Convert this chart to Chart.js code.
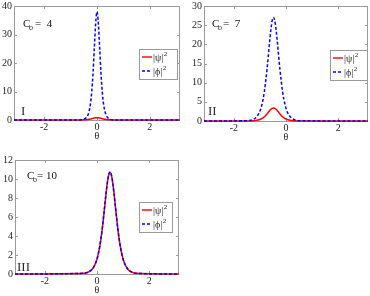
<!DOCTYPE html>
<html>
<head>
<meta charset="utf-8">
<script src="https://cdn.jsdelivr.net/npm/chart.js@4.4.1/dist/chart.umd.min.js"></script>
<style>
  html, body { margin: 0; padding: 0; background: #fff; }
  body { width: 370px; height: 296px; position: relative; overflow: hidden; }
  canvas { position: absolute; }
</style>
</head>
<body>
<canvas id="c1" width="185" height="144" style="left:0;top:-2px"></canvas>
<canvas id="c2" width="185" height="145" style="left:185px;top:-2px"></canvas>
<canvas id="c3" width="185" height="144" style="left:0;top:152px"></canvas>
<script>
// shared x axis
const xMin = -3.1416, xMax = 3.1416;
const xTicks = [-2, 0, 2];

// panel I  (C_o = 4)
const thetaI = [-3.1416, -0.7, -0.6, -0.5, -0.4, -0.35, -0.3, -0.25, -0.2, -0.15, -0.1, -0.05, 0,
  0.05, 0.1, 0.15, 0.2, 0.25, 0.3, 0.35, 0.4, 0.5, 0.6, 0.7, 3.1416];
const psiI = [0, 0.012, 0.026, 0.057, 0.12, 0.173, 0.244, 0.336, 0.447, 0.57, 0.685, 0.77, 0.8,
  0.77, 0.685, 0.57, 0.447, 0.336, 0.244, 0.173, 0.12, 0.057, 0.026, 0.012, 0];
const phiI = [0, 0.02, 0.07, 0.25, 0.85, 1.6, 3.0, 5.5, 9.8, 16.5, 25.5, 34.0, 38.0,
  34.0, 25.5, 16.5, 9.8, 5.5, 3.0, 1.6, 0.85, 0.25, 0.07, 0.02, 0];
const yTicksI = [0, 10, 20, 30, 40];

// panel II  (C_o = 7)
const thetaII = [-3.1416, -1.48, -1.38, -1.28, -1.18, -1.08, -0.98, -0.88, -0.83, -0.78, -0.73, -0.68, -0.63, -0.58, -0.53, -0.48,
  -0.43, -0.38, -0.33, -0.28, -0.23, -0.18, -0.13, -0.08, 0.02, 0.12, 0.22, 0.32, 0.42, 0.52, 3.1416];
const psiII = [0, 0.015, 0.03, 0.065, 0.13, 0.24, 0.46, 0.83, 1.10, 1.43, 1.82, 2.25, 2.68, 3.05, 3.31, 3.4,
  3.31, 3.05, 2.68, 2.25, 1.82, 1.43, 1.10, 0.83, 0.46, 0.24, 0.13, 0.065, 0.03, 0.015, 0];
const phiII = [0, 0.08, 0.18, 0.35, 0.72, 1.5, 2.9, 5.6, 7.6, 10.3, 13.3, 16.8, 20.5, 23.8, 26.2, 27.0,
  26.2, 23.8, 20.5, 16.8, 13.3, 10.3, 7.6, 5.6, 2.9, 1.5, 0.72, 0.35, 0.18, 0.08, 0];
const yTicksII = [0, 5, 10, 15, 20, 25, 30];

// panel III  (C_o = 10)
const thetaIII = [-3.1416, -0.5, -0.4, -0.3, -0.2, -0.1, 0, 0.1, 0.15, 0.2, 0.25, 0.3, 0.35, 0.4, 0.45, 0.5,
  0.55, 0.6, 0.65, 0.7, 0.75, 0.8, 0.85, 0.9, 1.0, 1.1, 1.2, 1.3, 1.4, 1.5, 3.1416];
const psiIII = [0, 0.067, 0.13, 0.24, 0.46, 0.86, 1.57, 2.80, 3.67, 4.71, 5.94, 7.24, 8.53, 9.66, 10.43, 10.7,
  10.43, 9.66, 8.53, 7.24, 5.94, 4.71, 3.67, 2.80, 1.57, 0.86, 0.46, 0.24, 0.13, 0.067, 0];
const phiIII = [0, 0.07, 0.14, 0.25, 0.47, 0.87, 1.58, 2.82, 3.70, 4.74, 5.97, 7.28, 8.58, 9.70, 10.47, 10.75,
  10.45, 9.66, 8.52, 7.22, 5.92, 4.69, 3.65, 2.78, 1.55, 0.85, 0.45, 0.24, 0.13, 0.066, 0];
const yTicksIII = [0, 2, 4, 6, 8, 10, 12];

const RED = '#ff0000';
const BLUE = '#0000ff';
const FRAME = '#9a9a9a';
const serif = "'Liberation Serif', 'Times New Roman', serif";

// frame, inward ticks, C_o text, roman numeral and the little legend box
const decoPlugin = {
  id: 'deco',
  beforeDatasetsDraw(chart) {
    const { ctx, chartArea: a, scales } = chart;
    ctx.save();
    ctx.strokeStyle = FRAME;
    ctx.lineWidth = 1;
    ctx.strokeRect(a.left + 0.5, a.top + 0.5, a.right - a.left - 1, a.bottom - a.top);
    ctx.beginPath();
    scales.x.ticks.forEach(t => {
      const px = Math.round(scales.x.getPixelForValue(t.value)) + 0.5;
      ctx.moveTo(px, a.bottom); ctx.lineTo(px, a.bottom - 3);
      ctx.moveTo(px, a.top); ctx.lineTo(px, a.top + 3);
    });
    scales.y.ticks.forEach(t => {
      const py = Math.round(scales.y.getPixelForValue(t.value)) + 0.5;
      ctx.moveTo(a.left, py); ctx.lineTo(a.left + 3, py);
      ctx.moveTo(a.right, py); ctx.lineTo(a.right - 3, py);
    });
    ctx.stroke();
    ctx.restore();
  },
  afterDraw(chart, args, o) {
    const { ctx, chartArea: a } = chart;
    ctx.save();
    ctx.fillStyle = '#111';
    ctx.textBaseline = 'alphabetic';

    // C_o = n
    const cx = a.left + o.coX, cy = a.top + o.coY;
    ctx.font = `11px ${serif}`;
    ctx.fillText('C', cx, cy);
    ctx.font = `8px ${serif}`;
    ctx.fillText('o', cx + 6, cy + 3);
    ctx.font = `11px ${serif}`;
    ctx.fillText(o.coText, cx + o.eqDx, cy);

    // panel numeral
    ctx.font = `13px ${serif}`;
    ctx.fillStyle = '#2a2a2a';
    ctx.fillText(o.roman, a.left + o.romX, a.bottom - o.romY);

    // legend
    const L = o.legend;
    const bx = a.right - L.right - L.w, by = a.top + L.top;
    ctx.fillStyle = '#fff';
    ctx.fillRect(bx, by, L.w, L.h);
    ctx.strokeStyle = FRAME;
    ctx.lineWidth = 1;
    ctx.strokeRect(bx + 0.5, by + 0.5, L.w, L.h);
    chart.data.datasets.forEach((ds, i) => {
      const ly = by + L.row0 + i * L.gap;
      ctx.strokeStyle = ds.borderColor;
      ctx.lineWidth = 1.4;
      ctx.setLineDash(ds.borderDash || []);
      ctx.beginPath();
      ctx.moveTo(bx + 3, ly);
      ctx.lineTo(bx + 13, ly);
      ctx.stroke();
      ctx.setLineDash([]);
      ctx.fillStyle = '#222';
      ctx.textBaseline = 'middle';
      ctx.font = `10px ${serif}`;
      ctx.fillText(ds.label, bx + 14, ly + 1);
      const w = ctx.measureText(ds.label).width;
      ctx.font = `7px ${serif}`;
      ctx.fillText('2', bx + 14.5 + w, ly - 3);
    });
    ctx.restore();
  }
};

function makePanel(id, theta, psi, phi, yTicks, deco) {
  const pts = ys => theta.map((t, i) => ({ x: t, y: ys[i] }));
  const tickFont = { family: serif, size: 10 };
  return new Chart(document.getElementById(id), {
    type: 'line',
    data: {
      datasets: [
        { label: '|ψ|', data: pts(psi), borderColor: RED, borderWidth: 1.5, pointRadius: 0,
          cubicInterpolationMode: 'monotone', clip: false, order: 1 },
        { label: '|ϕ|', data: pts(phi), borderColor: BLUE, borderWidth: 1.5, borderDash: [3, 2], pointRadius: 0,
          cubicInterpolationMode: 'monotone', clip: false, order: 0 }
      ]
    },
    options: {
      responsive: false,
      animation: false,
      layout: { padding: { right: deco.padRight } },
      plugins: { legend: { display: false }, tooltip: { enabled: false }, deco },
      scales: {
        x: {
          type: 'linear', min: xMin, max: xMax,
          grid: { display: false, drawTicks: false, tickLength: 0 }, border: { display: false },
          afterBuildTicks: s => { s.ticks = xTicks.map(v => ({ value: v })); },
          ticks: { font: tickFont, color: '#222', padding: 1, maxRotation: 0, autoSkip: false },
          title: { display: true, text: 'θ', font: tickFont, color: '#222', padding: 0 },
          afterFit: s => { s.height = 22; }
        },
        y: {
          min: 0, max: yTicks[yTicks.length - 1],
          grid: { display: false, drawTicks: false, tickLength: 0 }, border: { display: false },
          afterBuildTicks: s => { s.ticks = yTicks.map(v => ({ value: v })); },
          ticks: { font: tickFont, color: '#222', padding: 2 },
          afterFit: s => { s.width = deco.yw; }
        }
      }
    },
    plugins: [decoPlugin]
  });
}

makePanel('c1', thetaI, psiI, phiI, yTicksI, {
  yw: 14, padRight: 5, coX: 9, coY: 21, eqDx: 12, coText: '=  4', roman: 'I', romX: 7, romY: 5,
  legend: { right: 3, w: 38, top: 43, h: 30, row0: 8, gap: 14 }
});
makePanel('c2', thetaII, psiII, phiII, yTicksII, {
  yw: 19, padRight: 2, coX: 8, coY: 21, eqDx: 11, coText: '=  7', roman: 'II', romX: 4, romY: 6,
  legend: { right: 1, w: 37, top: 44, h: 30, row0: 8, gap: 14 }
});
makePanel('c3', thetaIII, psiIII, phiIII, yTicksIII, {
  yw: 15, padRight: 6, coX: 12, coY: 19, eqDx: 10, coText: '= 10', roman: 'III', romX: 2, romY: 3,
  legend: { right: 7, w: 33, top: 42, h: 30, row0: 8, gap: 14 }
});
</script>
</body>
</html>
